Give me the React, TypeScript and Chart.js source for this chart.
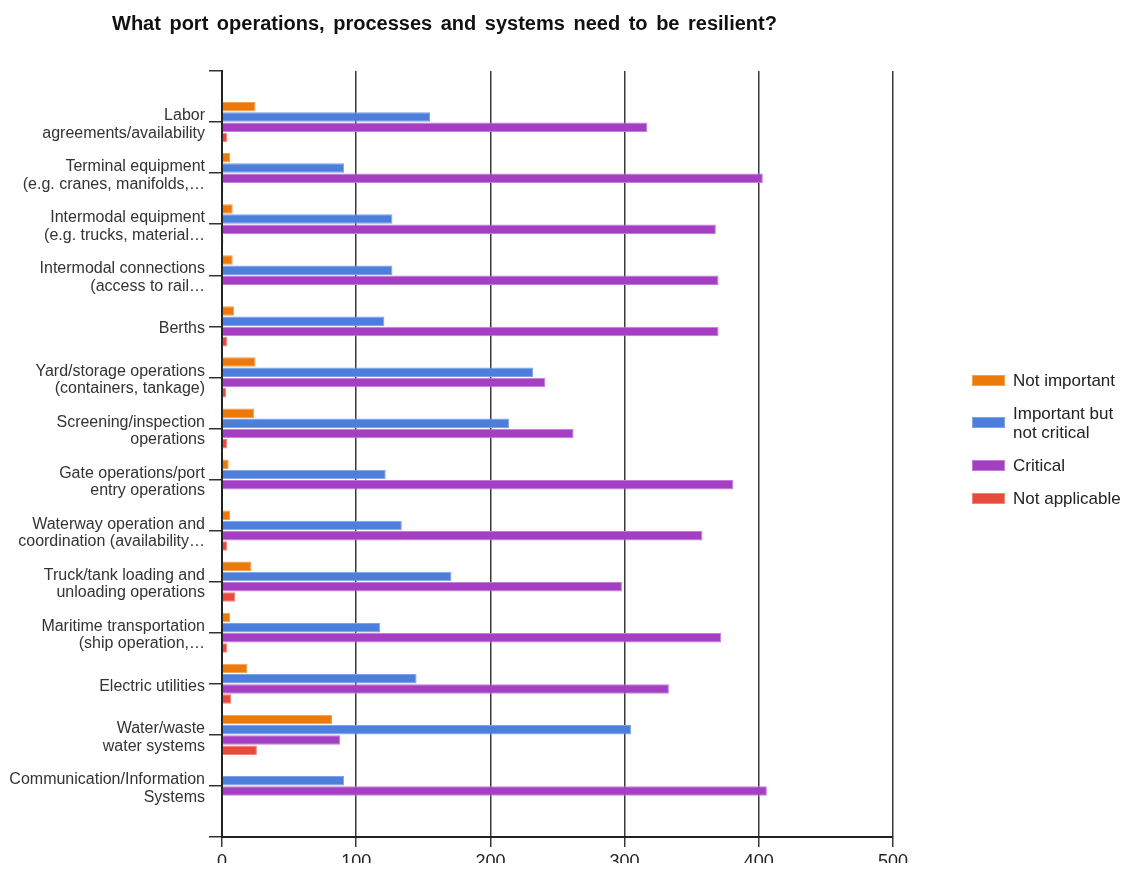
import React, { useEffect, useRef } from "react";
import { Chart, registerables } from "chart.js";

Chart.register(...registerables);

const TITLE = "What port operations, processes and systems need to be resilient?";

const categories: string[][] = [
  ["Labor", "agreements/availability"],
  ["Terminal equipment", "(e.g. cranes, manifolds,…"],
  ["Intermodal equipment", "(e.g. trucks, material…"],
  ["Intermodal connections", "(access to rail…"],
  ["Berths"],
  ["Yard/storage operations", "(containers, tankage)"],
  ["Screening/inspection", "operations"],
  ["Gate operations/port", "entry operations"],
  ["Waterway operation and", "coordination (availability…"],
  ["Truck/tank loading and", "unloading operations"],
  ["Maritime transportation", "(ship operation,…"],
  ["Electric utilities"],
  ["Water/waste", "water systems"],
  ["Communication/Information", "Systems"],
];

const seriesNames = ["Not important", "Important but not critical", "Critical", "Not applicable"];
const legendLines = [["Not important"], ["Important but", "not critical"], ["Critical"], ["Not applicable"]];

const notImportant = [25, 6, 8, 8, 9, 25, 24, 5, 6, 22, 6, 19, 82, 0];
const importantNotCritical = [155, 91, 127, 127, 121, 232, 214, 122, 134, 171, 118, 145, 305, 91];
const critical = [317, 403, 368, 370, 370, 241, 262, 381, 358, 298, 372, 333, 88, 406];
const notApplicable = [4, 1, 1, 0, 4, 3, 4, 0, 4, 10, 4, 7, 26, 0];

const xMin = 0;
const xMax = 500;
const xStep = 100;

const colors = ["#EB7A0B", "#4B7FDB", "#A43EC2", "#E84B3C"];
const borderColors = ["#F0A050", "#7FA2E6", "#C57CD8", "#EE8478"];

const FONT = '"Liberation Sans", Arial, sans-serif';

export default function App() {
  const ref = useRef<HTMLCanvasElement>(null);

  useEffect(() => {
    const series = [notImportant, importantNotCritical, critical, notApplicable];
    const labels: (string | string[])[] = ["", ...categories, ""];
    const pad = (arr: number[]) => [null, ...arr, null];
    Chart.defaults.font.family = FONT;
    const chart = new Chart(ref.current as HTMLCanvasElement, {
      type: "bar",
      data: {
        labels,
        datasets: series.map((s, i) => ({
          label: seriesNames[i],
          data: pad(s),
          backgroundColor: colors[i],
          borderColor: borderColors[i],
          borderWidth: 1,
          categoryPercentage: 0.8,
          barPercentage: 0.93,
        })),
      },
      options: {
        indexAxis: "y",
        animation: false,
        responsive: true,
        maintainAspectRatio: false,
        layout: { padding: { top: 63, right: 227, bottom: 0, left: 0 } },
        plugins: {
          legend: { display: false },
          title: { display: false },
          tooltip: { enabled: false },
        },
        scales: {
          x: {
            type: "linear",
            min: xMin,
            max: xMax,
            afterFit: (s: any) => {
              s.height = 26;
            },
            grid: { color: "#3a3a3a", lineWidth: 1.5, drawTicks: true, tickLength: 10 },
            border: { display: true, color: "#222", width: 2 },
            ticks: { stepSize: xStep, padding: 4, color: "#222", font: { size: 18 } },
          },
          y: {
            type: "category",
            offset: false,
            afterFit: (s: any) => {
              s.width = 214;
            },
            grid: {
              offset: false,
              drawOnChartArea: false,
              drawTicks: true,
              tickLength: 13,
              color: "#333",
              lineWidth: 1.5,
            },
            border: { display: true, color: "#222", width: 2 },
            ticks: {
              autoSkip: false,
              padding: 4,
              labelOffset: 2.5,
              color: "#333",
              font: { size: 16, lineHeight: 1.1 },
            },
          },
        },
      },
    } as any);
    return () => chart.destroy();
  }, []);

  return (
    <div style={{ position: "relative", width: 1112, height: 855 }}>
      <canvas ref={ref} />
      <div
        style={{
          position: "absolute",
          left: 104,
          top: 3,
          font: `bold 20px ${FONT}`,
          lineHeight: "24px",
          color: "#111",
          whiteSpace: "nowrap",
          wordSpacing: 3,
        }}
      >
        {TITLE}
      </div>
      <div
        style={{
          position: "absolute",
          left: 964,
          top: 362.5,
          display: "flex",
          flexDirection: "column",
          gap: 14,
          font: `17px ${FONT}`,
          lineHeight: "19px",
          color: "#222",
        }}
      >
        {legendLines.map((lines, i) => (
          <div key={i} style={{ display: "flex", alignItems: "center" }}>
            <span
              style={{
                width: 33,
                height: 11,
                background: colors[i],
                border: `1px solid ${borderColors[i]}`,
                boxSizing: "border-box",
                marginRight: 8,
                flex: "none",
              }}
            />
            <span style={{ whiteSpace: "nowrap" }}>
              {lines.map((l, j) => (
                <div key={j}>{l}</div>
              ))}
            </span>
          </div>
        ))}
      </div>
    </div>
  );
}
